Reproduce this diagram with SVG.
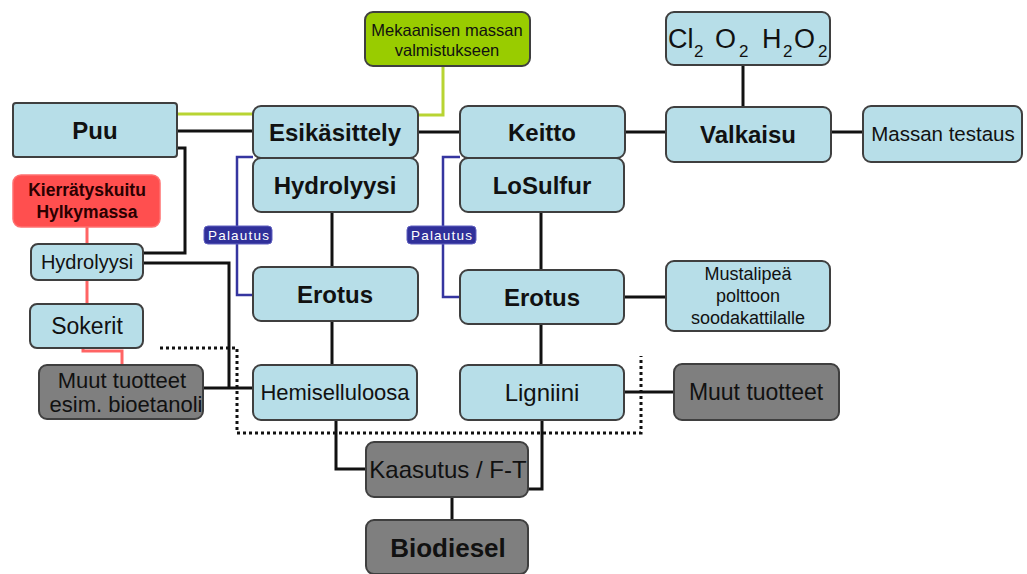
<svg xmlns="http://www.w3.org/2000/svg" width="1027" height="574" viewBox="0 0 1027 574">
<style>
.b{fill:#b7dee8;stroke:#3f3f3f;stroke-width:2}
.g{fill:#7f7f7f;stroke:#3f3f3f;stroke-width:2}
.t{font-family:"Liberation Sans",Arial,sans-serif;fill:#111;text-anchor:middle}
.bb{font-weight:bold;font-size:24px}
.k{fill:none;stroke:#111;stroke-width:3}
.bl{fill:none;stroke:#3535a0;stroke-width:2.5}
.rd{fill:none;stroke:#ff6464;stroke-width:3}
.gr{fill:none;stroke:#b8d432;stroke-width:3}
.pal{fill:#30309a;stroke:#6060c0;stroke-width:1}
.pt{font-family:"Liberation Sans",Arial,sans-serif;font-size:13.5px;fill:#fff;letter-spacing:1.2px}
.ch{font-family:"Liberation Sans",Arial,sans-serif;font-size:27px;fill:#111}
.sb{font-size:17px}
</style>
<rect width="1027" height="574" fill="#fff"/>
<g id="connectors">
<path class="gr" d="M177,114 H253"/>
<path class="gr" d="M418,115 H443 V66"/>
<path class="k" d="M177,131 H253"/>
<path class="k" d="M177,148 H185 V253 H143"/>
<path class="k" d="M143,263 H229 V388"/>
<path class="k" d="M203,388 H253"/>
<path class="k" d="M418,132 H460"/>
<path class="k" d="M625,132 H666"/>
<path class="k" d="M831,132 H863"/>
<path class="k" d="M743,65 V107"/>
<path class="k" d="M332,212 V267"/>
<path class="k" d="M332,321 V365"/>
<path class="k" d="M541,212 V270"/>
<path class="k" d="M541,324 V365"/>
<path class="k" d="M624,297 H666"/>
<path class="k" d="M624,392 H674"/>
<path class="k" d="M336,420 V469 H366"/>
<path class="k" d="M542,420 V489 H528"/>
<path class="k" d="M452,497 V520"/>
<path class="rd" d="M87,227 V244"/>
<path class="rd" d="M87,280 V304"/>
<path class="rd" d="M83,348 V351 H122 V365"/>
<path class="bl" d="M253,157 H237 V295 H253"/>
<path class="bl" d="M460,157 H443 V297 H460"/>
<path d="M160,348 H237 V433 H641 V356" fill="none" stroke="#111" stroke-width="3" stroke-dasharray="3,3"/>
</g>
<g id="puu"><rect class="b" x="13" y="103" width="164" height="54" rx="3"/><text class="t bb" x="95" y="139">Puu</text></g>
<g id="kierratys"><rect x="13" y="175" width="147" height="52" rx="8" fill="#ff4f4f" stroke="#ff7070" stroke-width="1.5"/><text class="t" style="font-weight:bold;font-size:17.5px;fill:#2a0000" x="87" y="196">Kierrätyskuitu</text><text class="t" style="font-weight:bold;font-size:17.5px;fill:#2a0000" x="87" y="218">Hylkymassa</text></g>
<g id="hydrolyysi-small"><rect class="b" x="31" y="244" width="112" height="36" rx="7"/><text class="t" style="font-size:20px" x="87" y="269">Hydrolyysi</text></g>
<g id="sokerit"><rect class="b" x="30" y="304" width="113" height="44" rx="7"/><text class="t" style="font-size:23px" x="87" y="334">Sokerit</text></g>
<g id="muut-left"><rect class="g" x="39" y="365" width="164" height="54" rx="8"/><text class="t" style="font-size:22px" x="122" y="388">Muut tuotteet</text><text class="t" style="font-size:22px" x="126" y="412">esim. bioetanoli</text></g>
<g id="mekaanisen"><rect x="365" y="12" width="165" height="54" rx="8" fill="#99cc00" stroke="#3f3f3f" stroke-width="2"/><text class="t" style="font-size:16.5px" x="447" y="36">Mekaanisen massan</text><text class="t" style="font-size:16.5px" x="447" y="56">valmistukseen</text></g>
<g id="esikasittely"><rect class="b" x="253" y="106" width="165" height="52" rx="8"/><text class="t bb" x="335" y="141">Esikäsittely</text></g>
<g id="hydrolyysi"><rect class="b" x="253" y="158" width="165" height="54" rx="8"/><text class="t bb" x="335" y="194">Hydrolyysi</text></g>
<g id="erotus1"><rect class="b" x="253" y="267" width="165" height="54" rx="8"/><text class="t bb" x="335" y="303">Erotus</text></g>
<g id="hemiselluloosa"><rect class="b" x="253" y="365" width="164" height="55" rx="8"/><text class="t" style="font-size:22px" x="335" y="400">Hemiselluloosa</text></g>
<g id="keitto"><rect class="b" x="460" y="106" width="165" height="52" rx="8"/><text class="t bb" x="542" y="141">Keitto</text></g>
<g id="losulfur"><rect class="b" x="460" y="158" width="164" height="54" rx="8"/><text class="t bb" x="542" y="194">LoSulfur</text></g>
<g id="erotus2"><rect class="b" x="460" y="270" width="164" height="54" rx="8"/><text class="t bb" x="542" y="306">Erotus</text></g>
<g id="ligniini"><rect class="b" x="460" y="365" width="164" height="55" rx="8"/><text class="t" style="font-size:24px" x="542" y="401">Ligniini</text></g>
<g id="kaasutus"><rect class="g" x="366" y="442" width="162" height="55" rx="8"/><text class="t" style="font-size:24px" x="448" y="478">Kaasutus / F-T</text></g>
<g id="biodiesel"><rect class="g" x="366" y="520" width="162" height="54" rx="8"/><text class="t" style="font-weight:bold;font-size:26px" x="448" y="557">Biodiesel</text></g>
<g id="palautus1"><rect class="pal" x="204" y="226" width="68" height="18" rx="4"/><text class="pt" x="208" y="240">Palautus</text></g>
<g id="palautus2"><rect class="pal" x="407" y="226" width="69" height="18" rx="4"/><text class="pt" x="411" y="240">Palautus</text></g>
<g id="chem"><rect class="b" x="666" y="12" width="164" height="53" rx="8"/><text class="ch" x="668" y="48">Cl<tspan class="sb" x="694" y="57">2</tspan><tspan x="715" y="48">O</tspan><tspan class="sb" x="739" y="57">2</tspan><tspan x="762" y="48">H</tspan><tspan class="sb" x="783" y="57">2</tspan><tspan x="794" y="48">O</tspan><tspan class="sb" x="818" y="57">2</tspan></text></g>
<g id="valkaisu"><rect class="b" x="666" y="107" width="165" height="55" rx="8"/><text class="t bb" x="748" y="143">Valkaisu</text></g>
<g id="massan-testaus"><rect class="b" x="863" y="106" width="159" height="56" rx="8"/><text class="t" style="font-size:20.5px" x="943" y="141">Massan testaus</text></g>
<g id="mustalipea"><rect class="b" x="666" y="261" width="164" height="70" rx="8"/><text class="t" style="font-size:18px" x="748" y="280">Mustalipeä</text><text class="t" style="font-size:18px" x="748" y="302">polttoon</text><text class="t" style="font-size:18px" x="748" y="324">soodakattilalle</text></g>
<g id="muut-right"><rect class="g" x="674" y="364" width="165" height="56" rx="8"/><text class="t" style="font-size:23px" x="756" y="400">Muut tuotteet</text></g>
</svg>
